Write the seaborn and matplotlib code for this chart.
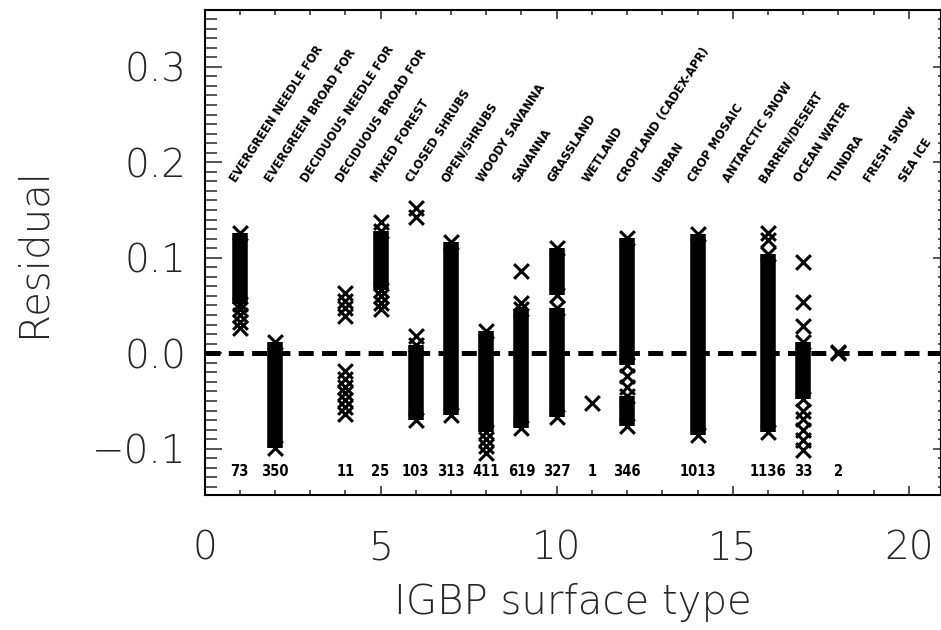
import matplotlib
matplotlib.use("Agg")
import numpy as np
import pandas as pd
import matplotlib.pyplot as plt
import seaborn as sns
from matplotlib.ticker import MultipleLocator, FixedLocator, FixedFormatter

# ---------------- data ----------------
type_names = ["EVERGREEN NEEDLE FOR", "EVERGREEN BROAD FOR", "DECIDUOUS NEEDLE FOR",
              "DECIDUOUS BROAD FOR", "MIXED FOREST", "CLOSED SHRUBS", "OPEN/SHRUBS",
              "WOODY SAVANNA", "SAVANNA", "GRASSLAND", "WETLAND", "CROPLAND (CADEX-APR)",
              "URBAN", "CROP MOSAIC", "ANTARCTIC SNOW", "BARREN/DESERT", "OCEAN WATER",
              "TUNDRA", "FRESH SNOW", "SEA ICE"]
type_ids = list(range(1, 21))

count_types = [1, 2, 4, 5, 6, 7, 8, 9, 10, 11, 12, 14, 16, 17, 18]
counts = [73, 350, 11, 25, 103, 313, 411, 619, 327, 1, 346, 1013, 1136, 33, 2]

# dense runs of overlapping points: surface type, lowest and highest residual
run_types = [1, 2, 5, 6, 7, 8, 9, 10, 10, 12, 12, 14, 16, 17]
run_lo = [0.052, -0.099, 0.066, -0.070, -0.065, -0.083, -0.078, 0.061, -0.067,
          -0.012, -0.076, -0.086, -0.083, -0.048]
run_hi = [0.126, 0.012, 0.128, 0.009, 0.117, 0.023, 0.046, 0.110, 0.047,
          0.121, -0.045, 0.125, 0.104, 0.012]

# isolated points
pt_types = [1, 1, 1, 1,
            4, 4, 4, 4, 4, 4, 4, 4, 4, 4, 4,
            5, 5, 5, 5,
            6, 6, 6,
            8, 8, 8,
            9, 9,
            11,
            12, 12,
            16, 16,
            17, 17, 17, 17, 17, 17, 17, 17,
            18, 18]
pt_vals = [0.046, 0.040, 0.033, 0.026,
           0.063, 0.055, 0.047, 0.039, -0.019, -0.027, -0.035, -0.042, -0.049, -0.056, -0.064,
           0.137, 0.060, 0.053, 0.046,
           0.152, 0.143, 0.018,
           -0.090, -0.097, -0.105,
           0.086, 0.053,
           -0.052,
           -0.024, -0.035,
           0.126, 0.119,
           0.096, 0.054, 0.028, -0.060, -0.069, -0.080, -0.091, -0.101,
           0.001, 0.000]

# ---------------- figure ----------------
sns.set_style("ticks")
plt.rcParams["font.family"] = ["DejaVu Sans"]

fig = plt.figure(figsize=(9.41, 6.3), dpi=100)
ax = fig.add_axes([204.5 / 941, 135 / 630, 736 / 941, 485 / 630])

# dense columns
ax.vlines(run_types, run_lo, run_hi, colors="black", linewidth=11.2, zorder=3)

pts = pd.DataFrame({
    "type": pt_types + run_types + run_types,
    "residual": pt_vals + run_lo + run_hi,
})
sns.scatterplot(data=pts, x="type", y="residual", marker="x", s=112,
                color="black", linewidth=2.2, legend=False, ax=ax, zorder=4)

ax.axhline(0.0, color="black", linewidth=3.6, linestyle=(0, (3.0, 1.66)), zorder=2)

# type names
for tid, name in zip(type_ids, type_names):
    ax.text(tid - 0.1, 0.178, name, rotation=57, rotation_mode="anchor",
            ha="left", va="baseline", fontsize=9.2, fontweight="bold",
            fontstretch="condensed", family="DejaVu Sans", color="black")

# counts
for tid, c in zip(count_types, counts):
    ax.text(tid, -0.124, str(c), ha="center", va="center", fontsize=10.5,
            fontweight="bold", fontstretch="condensed", family="DejaVu Sans",
            color="black")

ax.set_xlim(0, 20.9)
ax.set_ylim(-0.1485, 0.3595)

ax.xaxis.set_major_locator(FixedLocator([0, 5, 10, 15, 20]))
ax.xaxis.set_minor_locator(MultipleLocator(1))
yt = [-0.1, 0.0, 0.1, 0.2, 0.3]
ax.yaxis.set_major_locator(FixedLocator(yt))
ax.yaxis.set_major_formatter(FixedFormatter(["\u22120.1", "0.0", "0.1", "0.2", "0.3"]))
ax.yaxis.set_minor_locator(MultipleLocator(0.01))

ax.tick_params(axis="x", which="major", direction="in", length=6.5, width=1.1,
               top=True, bottom=True, pad=25, labelsize=28)
ax.tick_params(axis="x", which="minor", direction="in", length=3.6, width=1.1,
               top=True, bottom=True)
ax.tick_params(axis="y", which="major", direction="in", length=12.2, width=1.1,
               left=True, right=False, pad=13, labelsize=28)
ax.tick_params(axis="y", which="minor", direction="in", length=8.4, width=1.1,
               left=True, right=False)
for lab in ax.get_xticklabels() + ax.get_yticklabels():
    lab.set_fontweight("ultralight")

sec = ax.secondary_yaxis("right")
sec.yaxis.set_major_locator(FixedLocator(yt))
sec.yaxis.set_minor_locator(MultipleLocator(0.01))
sec.tick_params(axis="y", which="major", direction="in", length=6, width=1.1, labelright=False)
sec.tick_params(axis="y", which="minor", direction="in", length=2.5, width=1.1)

for s in ax.spines.values():
    s.set_visible(True)
    s.set_linewidth(1.5)
    s.set_color("black")
sec.spines["right"].set_linewidth(1.5)

ax.set_xlabel("IGBP surface type", fontsize=29, fontweight="ultralight", labelpad=11)
ax.set_ylabel("Residual", fontsize=29, fontweight="ultralight", va="center")
ax.yaxis.set_label_coords(-0.233, 0.5)

fig.savefig("out.png", dpi=100, facecolor="white")
